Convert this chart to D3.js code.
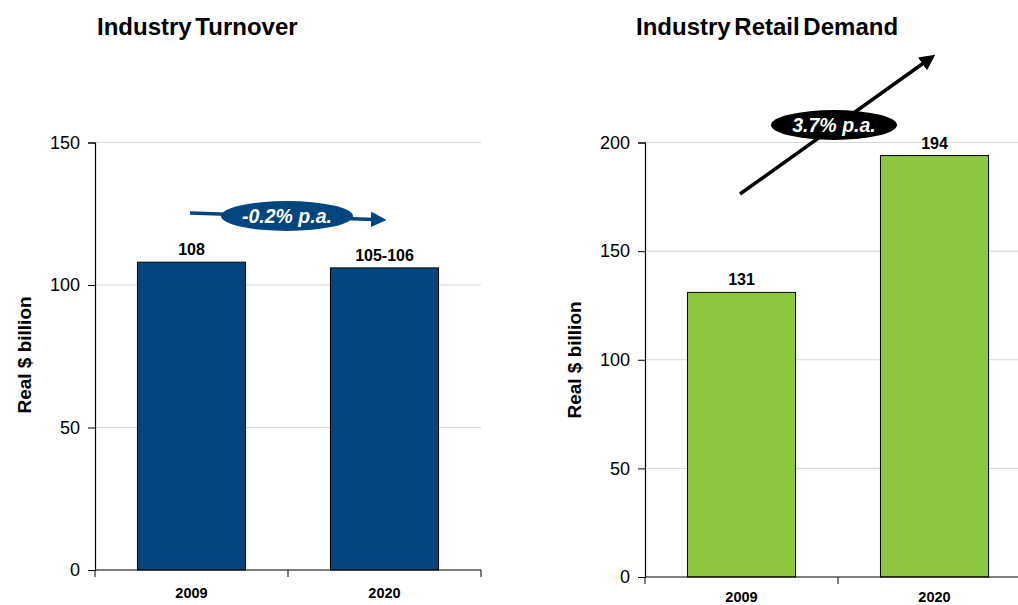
<!DOCTYPE html>
<html><head><meta charset="utf-8">
<script src="https://cdn.jsdelivr.net/npm/d3@7"></script>
<style>body{margin:0;background:#fff}svg{display:block;font-family:"Liberation Sans",Arial,sans-serif}</style>
</head><body><svg id="c" width="1018" height="605"></svg>
<script>
const categories = ["2009", "2020"];
const turnoverValues = [108, 106];
const turnoverLabels = ["108", "105-106"];
const turnoverTicks = [0, 50, 100, 150];
const demandValues = [131, 194];
const demandLabels = ["131", "194"];
const demandTicks = [0, 50, 100, 150, 200];
const turnoverGrowth = "-0.2% p.a.";
const demandGrowth = "3.7% p.a.";

const svg = d3.select("#c");

function panel(cfg) {
  const g = svg.append("g");
  const x = d3.scaleBand().domain(cfg.cats).range([cfg.x0, cfg.x1]).paddingInner(0.44).paddingOuter(0.22);
  const y = d3.scaleLinear().domain([0, cfg.max]).range([cfg.y0, cfg.yTop]);
  // gridlines
  g.selectAll(".grid").data(cfg.ticks.filter(t => t > 0)).join("line")
    .attr("x1", cfg.x0).attr("x2", cfg.x1)
    .attr("y1", d => y(d)).attr("y2", d => y(d))
    .attr("stroke", "#d9d9d9").attr("stroke-width", 1.2);
  // y axis
  const ya = g.append("g").attr("transform", `translate(${cfg.x0},0)`)
    .call(d3.axisLeft(y).tickValues(cfg.ticks).tickSize(7).tickPadding(8));
  ya.select(".domain").attr("stroke", "#000").attr("stroke-width", 1.2);
  ya.selectAll(".tick line").attr("stroke", "#000");
  ya.selectAll("text").attr("font-size", 18).attr("fill", "#000").attr("font-family", "Liberation Sans, Arial, sans-serif");
  // bars
  g.selectAll(".bar").data(cfg.vals).join("rect")
    .attr("x", (d, i) => x(cfg.cats[i])).attr("width", x.bandwidth())
    .attr("y", d => y(d)).attr("height", d => cfg.y0 - y(d))
    .attr("fill", cfg.color).attr("stroke", "#000").attr("stroke-width", 1);
  g.selectAll(".vl").data(cfg.vals).join("text")
    .attr("x", (d, i) => x(cfg.cats[i]) + x.bandwidth() / 2)
    .attr("y", d => y(d) - 7)
    .attr("text-anchor", "middle").attr("font-size", 16).attr("font-weight", "bold")
    .text((d, i) => cfg.labels[i]);
  // x axis
  const step = (cfg.x1 - cfg.x0) / cfg.cats.length;
  const xt = d3.range(cfg.cats.length + 1).map(i => cfg.x0 + i * step);
  g.append("line").attr("x1", cfg.x0).attr("x2", cfg.x1).attr("y1", cfg.y0).attr("y2", cfg.y0)
    .attr("stroke", "#000").attr("stroke-width", 1.2);
  g.selectAll(".xt").data(xt).join("line")
    .attr("x1", d => d).attr("x2", d => d).attr("y1", cfg.y0).attr("y2", cfg.y0 + 7)
    .attr("stroke", "#000");
  g.selectAll(".xl").data(cfg.cats).join("text")
    .attr("x", d => x(d) + x.bandwidth() / 2).attr("y", Math.min(cfg.y0 + 28, 602))
    .attr("text-anchor", "middle").attr("font-size", 14.5).attr("font-weight", "bold").text(d => d);
  // title
  g.append("text").attr("x", cfg.titleX).attr("y", 35).attr("font-size", 24).attr("font-weight", "bold")
    .attr("word-spacing", -3).text(cfg.title);
  // y label
  g.append("text").attr("transform", `translate(${cfg.ylabX},${cfg.ylabY}) rotate(-90)`)
    .attr("text-anchor", "middle").attr("font-size", 19).attr("font-weight", "bold").text("Real $ billion");
  return g;
}

panel({cats: categories, vals: turnoverValues, labels: turnoverLabels, ticks: turnoverTicks, max: 150,
  x0: 95, x1: 481, y0: 570, yTop: 142.5, color: "#03467f", title: "Industry Turnover", titleX: 97, ylabX: 31, ylabY: 355});
panel({cats: categories, vals: demandValues, labels: demandLabels, ticks: demandTicks, max: 200,
  x0: 645, x1: 1031, y0: 577, yTop: 142.5, color: "#8dc63f", title: "Industry Retail Demand", titleX: 636, ylabX: 581, ylabY: 360});

// growth arrows
const defs = svg.append("defs");
function marker(id, color) {
  defs.append("marker").attr("id", id).attr("viewBox", "0 0 10 10").attr("refX", 2).attr("refY", 5)
    .attr("markerWidth", 4.5).attr("markerHeight", 4.5).attr("orient", "auto")
    .append("path").attr("d", "M0,0 L10,5 L0,10 z").attr("fill", color);
}
marker("mb", "#03467f");
marker("mk", "#000");

function growth(x1, y1, x2, y2, cx, cy, rx, ry, color, mid, label) {
  svg.append("line").attr("x1", x1).attr("y1", y1).attr("x2", x2).attr("y2", y2)
    .attr("stroke", color).attr("stroke-width", 3.5).attr("marker-end", `url(#${mid})`);
  svg.append("ellipse").attr("cx", cx).attr("cy", cy).attr("rx", rx).attr("ry", ry).attr("fill", color);
  svg.append("text").attr("x", cx).attr("y", cy + 7).attr("text-anchor", "middle").attr("fill", "#fff")
    .attr("font-size", 19.5).attr("font-weight", "bold").attr("font-style", "italic").text(label);
}
growth(190, 213, 374, 219.5, 287, 216, 66, 15, "#03467f", "mb", turnoverGrowth);
growth(740, 194, 925, 62, 834, 125, 63, 15, "#000", "mk", demandGrowth);
</script></body></html>
